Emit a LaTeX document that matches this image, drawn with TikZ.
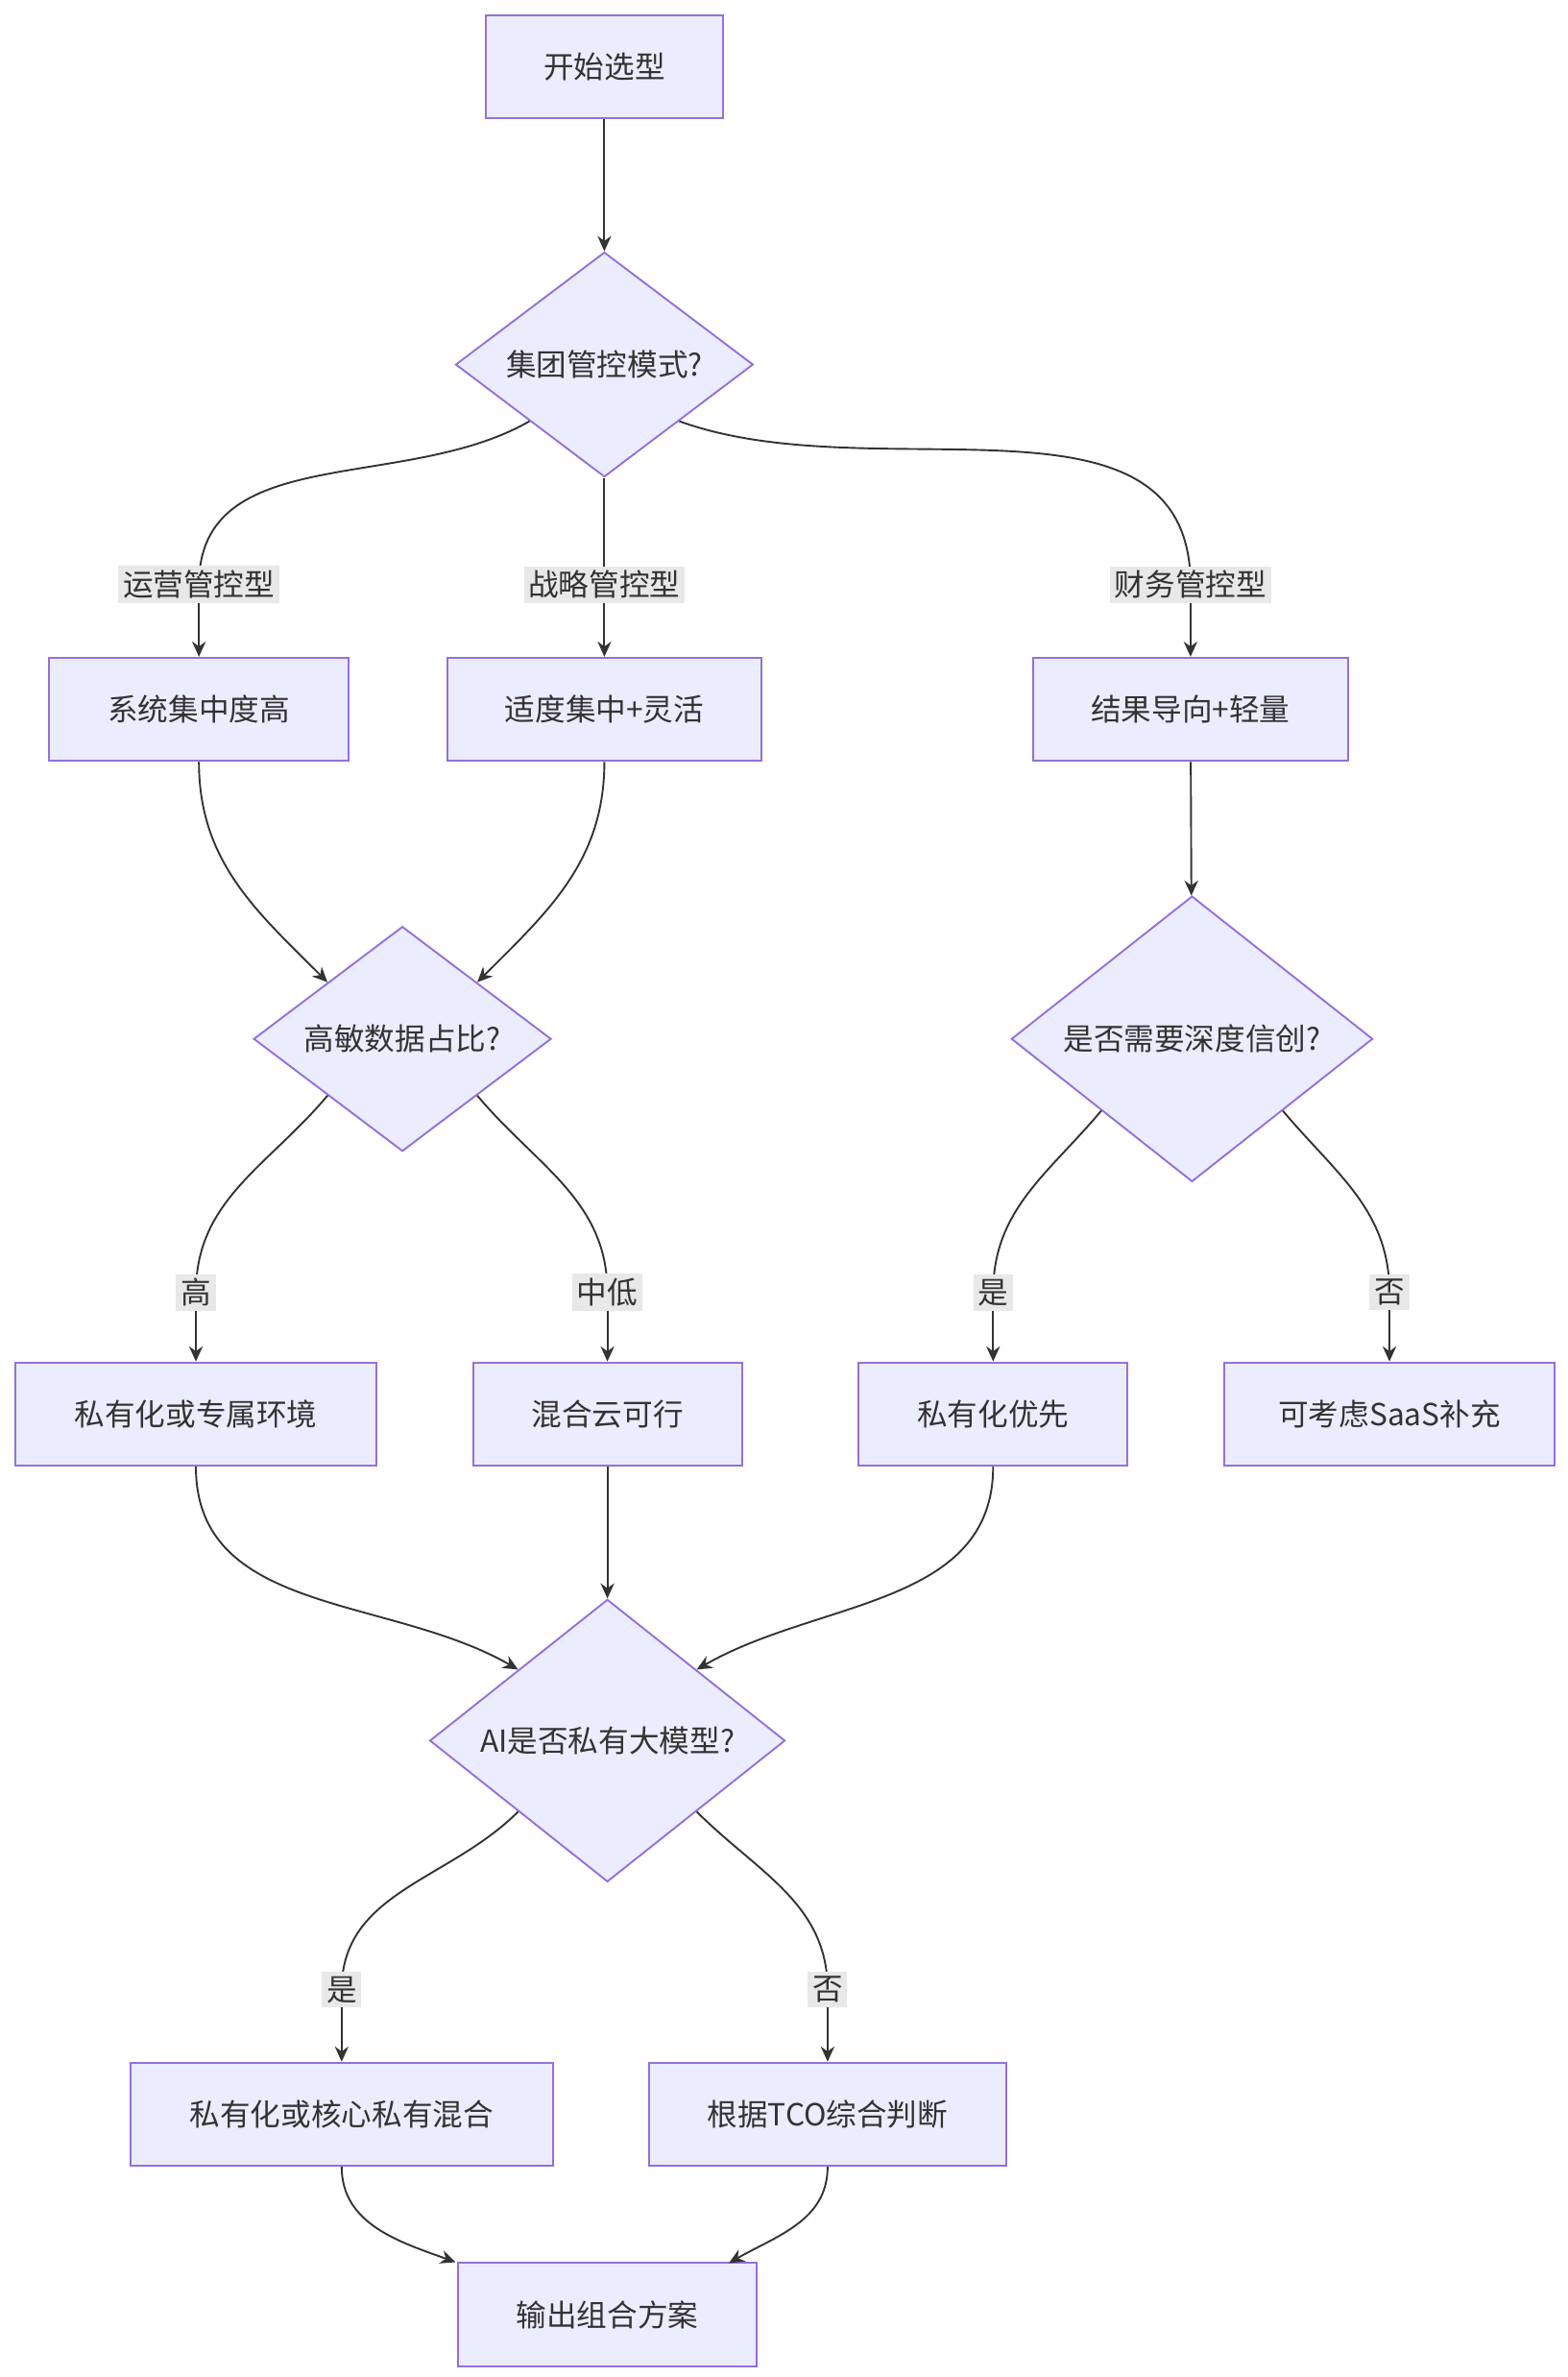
\documentclass[tikz,border=0pt]{standalone}
\usepackage{fontspec}
\setmainfont{Noto Sans CJK SC}
\usetikzlibrary{shapes.geometric,arrows.meta}
\definecolor{nf}{HTML}{ECECFF}
\definecolor{ns}{HTML}{9370DB}
\definecolor{ed}{HTML}{333333}
\definecolor{lb}{HTML}{E8E8E8}
\begin{document}
\begin{tikzpicture}[x=0.5pt,y=-0.5pt,font=\fontsize{10}{12}\selectfont,
 box/.style={draw=ns,fill=nf,line width=0.6pt,minimum height=34pt,inner sep=0pt,text=ed},
 dia/.style={diamond,draw=ns,fill=nf,line width=0.6pt,inner sep=0pt,aspect=1,text=ed},
 lab/.style={fill=lb,inner sep=1.5pt,text=ed},
 e/.style={draw=ed,line width=0.6pt,-{Stealth[length=5pt,width=4.5pt]}},
 l/.style={draw=ed,line width=0.6pt}]
\useasboundingbox (0,0) rectangle (1032,1565);
\node[box,minimum width=78pt] (s) at (398,44) {开始选型};
\node[dia,minimum width=98pt] (d1) at (398,240) {集团管控模式?};
\node[box,minimum width=98.5pt] (b1) at (131,467) {系统集中度高};
\node[box,minimum width=103.5pt] (b2) at (398,467) {适度集中+灵活};
\node[box,minimum width=103.5pt] (b3) at (784,467) {结果导向+轻量};
\node[dia,minimum width=98pt] (d2) at (265,684) {高敏数据占比?};
\node[dia,minimum width=119pt] (d3) at (785,684) {是否需要深度信创?};
\node[box,minimum width=119pt] (c1) at (129,931) {私有化或专属环境};
\node[box,minimum width=88.5pt] (c2) at (400,931) {混合云可行};
\node[box,minimum width=88.5pt] (c3) at (654,931) {私有化优先};
\node[box,minimum width=109pt] (c4) at (915,931) {可考虑SaaS补充};
\node[dia,minimum width=117pt] (d4) at (400,1146) {AI是否私有大模型?};
\node[box,minimum width=139pt] (e1) at (225,1392) {私有化或核心私有混合};
\node[box,minimum width=117.5pt] (e2) at (545,1392) {根据TCO综合判断};
\node[box,minimum width=98.5pt] (f) at (400,1524) {输出组合方案};
\draw[e] (s) -- (d1);
\coordinate (p1) at (131,385); \coordinate (p2) at (398,385); \coordinate (p3) at (784,385);
\draw[l] (d1.south west) to[out=-150,in=90] (p1); \draw[e] (p1) -- (b1);
\draw[l] (d1.south) -- (p2); \draw[e] (p2) -- (b2);
\draw[l] (d1.south east) to[out=-20,in=90] (p3); \draw[e] (p3) -- (b3);
\node[lab] (l1) at (p1) {运营管控型};
\node[lab] (l2) at (p2) {战略管控型};
\node[lab] (l3) at (p3) {财务管控型};
\draw[e] (b1.south) to[out=-90,in=135] (d2.north west);
\draw[e] (b2.south) to[out=-90,in=45] (d2.north east);
\draw[e] (b3) -- (d3);
\coordinate (q1) at (129,851); \coordinate (q2) at (400,851); \coordinate (q3) at (654,851); \coordinate (q4) at (915,851);
\draw[l] (d2.south west) to[out=-130,in=90] (q1); \draw[e] (q1) -- (c1);
\draw[l] (d2.south east) to[out=-50,in=90] (q2); \draw[e] (q2) -- (c2);
\draw[l] (d3.south west) to[out=-130,in=90] (q3); \draw[e] (q3) -- (c3);
\draw[l] (d3.south east) to[out=-50,in=90] (q4); \draw[e] (q4) -- (c4);
\node[lab] (m1) at (q1) {高};
\node[lab] (m2) at (q2) {中低};
\node[lab] (m3) at (q3) {是};
\node[lab] (m4) at (q4) {否};
\draw[e] (c1.south) to[out=-90,in=150] (d4.north west);
\draw[e] (c2) -- (d4);
\draw[e] (c3.south) to[out=-90,in=30] (d4.north east);
\coordinate (r1) at (225,1310); \coordinate (r2) at (545,1310);
\draw[l] (d4.south west) to[out=-135,in=90] (r1); \draw[e] (r1) -- (e1);
\draw[l] (d4.south east) to[out=-45,in=90] (r2); \draw[e] (r2) -- (e2);
\node[lab] (n1) at (r1) {是};
\node[lab] (n2) at (r2) {否};
\draw[e] (e1.south) to[out=-90,in=160] (f.north west -| 300,1490) ;
\draw[e] (e2.south) to[out=-90,in=30] (480,1490);
\end{tikzpicture}
\end{document}
